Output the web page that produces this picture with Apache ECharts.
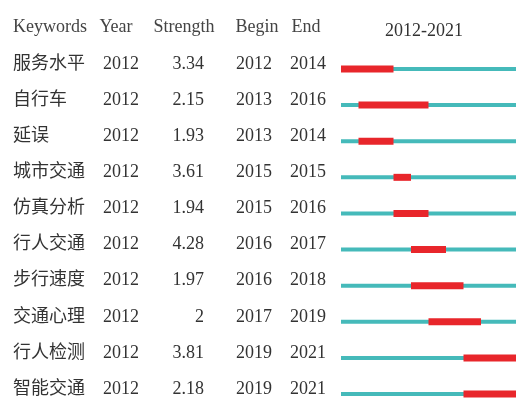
<!DOCTYPE html>
<html>
<head>
<meta charset="utf-8">
<script src="https://cdn.jsdelivr.net/npm/echarts@6/dist/echarts.min.js"></script>
<style>html,body{margin:0;padding:0;background:#fff;}#c{width:517px;height:403px;}</style>
</head>
<body>
<div id="c"></div>
<script>
const headers = ['Keywords', 'Year', 'Strength', 'Begin', 'End'];
const keywords = ['服务水平', '自行车', '延误', '城市交通', '仿真分析', '行人交通', '步行速度', '交通心理', '行人检测', '智能交通'];
const years = [2012, 2012, 2012, 2012, 2012, 2012, 2012, 2012, 2012, 2012];
const strengths = ['3.34', '2.15', '1.93', '3.61', '1.94', '4.28', '1.97', '2', '3.81', '2.18'];
const begins = [2012, 2013, 2013, 2015, 2015, 2016, 2016, 2017, 2019, 2019];
const ends = [2014, 2016, 2014, 2015, 2016, 2017, 2018, 2019, 2021, 2021];
const rangeStart = 2012, rangeEnd = 2021;

const FONT = '"Liberation Serif", "Noto Sans CJK SC", serif';
const TXT = '#333';
const chart = echarts.init(document.getElementById('c'), null, {renderer: 'canvas'});

const rows = keywords.map((k, i) => [i]);

// header word centres
const headerCx = [50, 116, 184, 257, 306];

chart.setOption({
  animation: false,
  backgroundColor: '#fff',
  grid: {left: 341, width: 175, top: 69, height: 325},
  xAxis: {type: 'value', min: rangeStart, max: rangeEnd + 1, show: false},
  yAxis: {type: 'value', min: 0, max: keywords.length - 1, inverse: true, show: false},
  graphic: headers.map((h, j) => ({
    type: 'text', x: headerCx[j], y: 27,
    style: {text: h, font: '18px ' + FONT, fill: '#444', align: 'center', verticalAlign: 'middle'}
  })).concat([{
    type: 'text', x: 424, y: 31,
    style: {text: rangeStart + '-' + rangeEnd, font: '18px ' + FONT, fill: '#333', align: 'center', verticalAlign: 'middle'}
  }]),
  series: [
    {
      type: 'custom',
      data: rows,
      clip: false,
      renderItem: function (params, api) {
        const i = api.value(0);
        const p0 = api.coord([rangeStart, i]);
        const p1 = api.coord([rangeEnd + 1, i]);
        const b0 = api.coord([begins[i], i]);
        const b1 = api.coord([ends[i] + 1, i]);
        return {
          type: 'group',
          children: [
            {type: 'rect', shape: {x: p0[0], y: p0[1] - 2, width: p1[0] - p0[0], height: 4}, style: {fill: '#45baba'}},
            {type: 'rect', shape: {x: b0[0], y: b0[1] - 3.5, width: b1[0] - b0[0], height: 7}, style: {fill: '#e8262b'}}
          ]
        };
      }
    },
    {
      type: 'custom',
      data: rows,
      clip: false,
      renderItem: function (params, api) {
        const i = api.value(0);
        const y = api.coord([rangeStart, i])[1] - 5;
        const mk = (t, x, align) => ({
          type: 'text', x: x, y: y,
          style: {text: String(t), font: '18px ' + FONT, fill: TXT, align: align, verticalAlign: 'middle'}
        });
        return {
          type: 'group',
          children: [
            mk(keywords[i], 13, 'left'),
            mk(years[i], 103, 'left'),
            mk(strengths[i], 204, 'right'),
            mk(begins[i], 236, 'left'),
            mk(ends[i], 290, 'left')
          ]
        };
      }
    }
  ]
});
</script>
</body>
</html>
